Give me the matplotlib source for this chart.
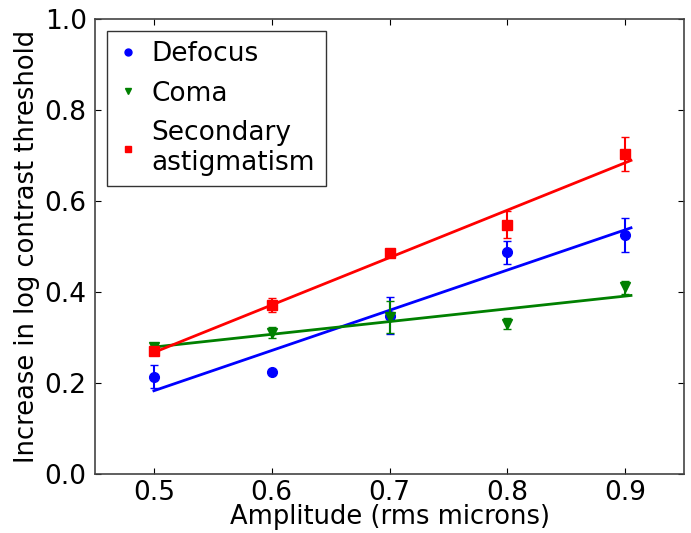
import numpy as np
import matplotlib
matplotlib.use("Agg")
import matplotlib.pyplot as plt

amplitude = [0.5, 0.6, 0.7, 0.8, 0.9]

defocus = [0.214, 0.225, 0.348, 0.487, 0.525]
defocus_err = [0.025, 0.0, 0.040, 0.025, 0.038]

coma = [0.280, 0.310, 0.345, 0.330, 0.410]
coma_err = [0.008, 0.012, 0.035, 0.012, 0.015]

astig = [0.270, 0.372, 0.485, 0.548, 0.703]
astig_err = [0.005, 0.015, 0.005, 0.030, 0.038]

series = [
    ("Defocus", defocus, defocus_err, "blue", "o"),
    ("Coma", coma, coma_err, "green", "v"),
    ("Secondary\nastigmatism", astig, astig_err, "red", "s"),
]

plt.rcParams["font.family"] = "DejaVu Sans"
plt.rcParams["xtick.direction"] = "in"
plt.rcParams["ytick.direction"] = "in"
plt.rcParams["xtick.top"] = True
plt.rcParams["ytick.right"] = True

fig = plt.figure(figsize=(6.91, 5.33), dpi=100)
ax = fig.add_axes([95 / 691, 1 - 474 / 533, (684 - 95) / 691, (474 - 19) / 533])

x = np.array(amplitude)
for name, y, err, color, marker in series:
    ax.errorbar(x, y, yerr=err, fmt="none", ecolor=color, capsize=3,
                elinewidth=1.5)
    ax.plot(x, y, marker, color=color, mec=color, ms=7, label=name)
    # linear fit through the points
    slope, intercept = np.polyfit(x, y, 1)
    xs = np.array([x.min(), x.max() + 0.005])
    ax.plot(xs, slope * xs + intercept, color=color, lw=2)

ax.set_xlim(0.45, 0.95)
ax.set_ylim(0.0, 1.0)
ax.set_xticks([0.5, 0.6, 0.7, 0.8, 0.9])
ax.set_yticks([0.0, 0.2, 0.4, 0.6, 0.8, 1.0])
ax.tick_params(labelsize=19, length=4, width=0.8, pad=6)
ax.tick_params(axis="x", pad=4)
for s in ax.spines.values():
    s.set_color("#444444")
    s.set_linewidth(1.2)

ax.set_xlabel("Amplitude (rms microns)", fontsize=18.5, labelpad=-1)
ax.set_ylabel("Increase in log contrast threshold", fontsize=18.5, labelpad=3)

leg = ax.legend(loc="upper left", fontsize=19, numpoints=1, fancybox=False,
                handlelength=0.8, handletextpad=0.5, borderpad=0.4,
                labelspacing=0.5, borderaxespad=0.45)
leg.get_frame().set_edgecolor("black")
leg.get_frame().set_linewidth(1.0)
for h in leg.legend_handles:
    h.set_markersize(5)

fig.savefig("out.png", dpi=100, facecolor="white")
